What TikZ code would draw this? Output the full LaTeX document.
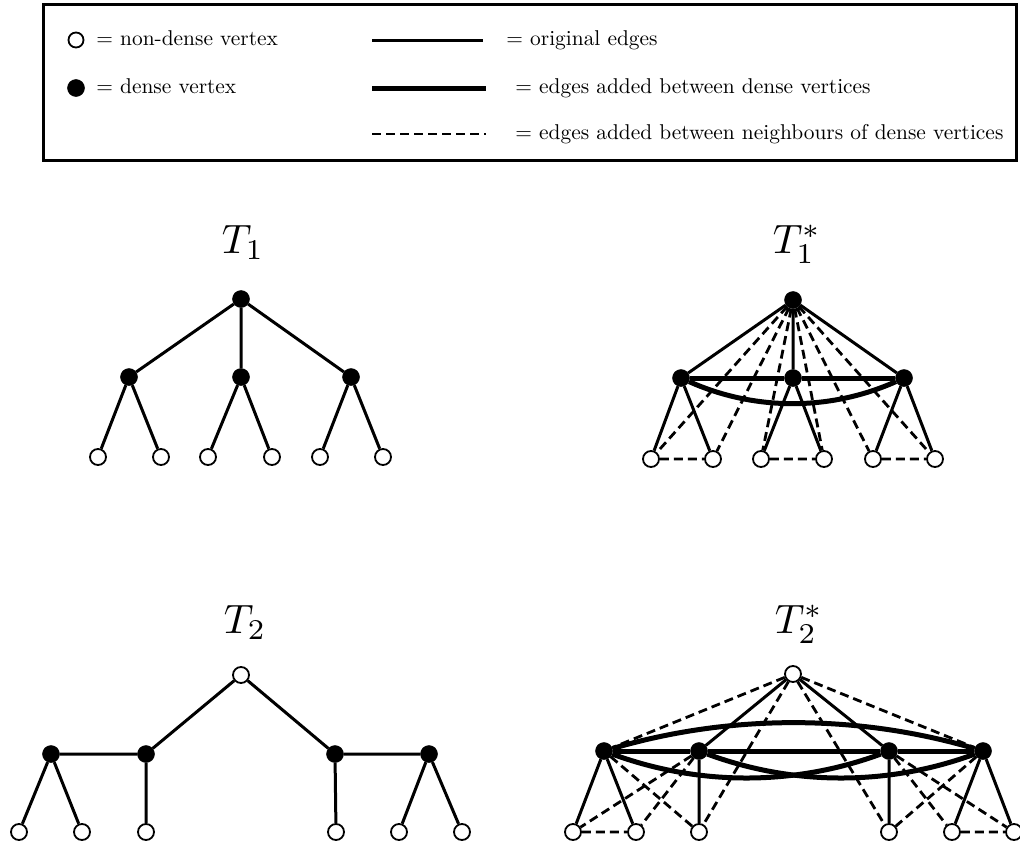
\documentclass[tikz,border=0pt]{standalone}
\usetikzlibrary{backgrounds}
\begin{document}
\begin{tikzpicture}[x=1pt,y=-1pt,
  nd/.style={circle,draw,fill=white,line width=1.8pt,minimum size=16pt,inner sep=0pt},
  dv/.style={circle,draw,fill=black,line width=0.5pt,minimum size=17pt,inner sep=0pt},
  orig/.style={line width=3pt},
  thk/.style={line width=5pt},
  dsh/.style={line width=2.8pt,dash pattern=on 9pt off 5pt},
  lbl/.style={anchor=base west,scale=2.14,inner sep=0pt},
  tl/.style={anchor=base,scale=4.1,inner sep=0pt}]
\useasboundingbox (0,0) rectangle (1020,846);
% ---------- legend ----------
\draw[line width=3pt] (43,4) rectangle (1016,160);
\node[nd,minimum size=15pt] (lo) at (76,40) {};
\node[dv] (lf) at (76,88) {};
\node[lbl] (lt1) at (96,45.5) {$=$ non-dense vertex};
\node[lbl] (lt2) at (96,93.5) {$=$ dense vertex};
\coordinate (s1a) at (372,40);  \coordinate (s1b) at (483,40);
\coordinate (s2a) at (372,88);  \coordinate (s2b) at (486,88);
\coordinate (s3a) at (372,134); \coordinate (s3b) at (486,134);
\draw[orig] (s1a) -- (s1b);
\draw[thk] (s2a) -- (s2b);
\draw[dsh] (s3a) -- (s3b);
\node[lbl] (lt3) at (506,45.5) {$=$ original edges};
\node[lbl] (lt4) at (515,93.5) {$=$ edges added between dense vertices};
\node[lbl] (lt5) at (515,139.5) {$=$ edges added between neighbours of dense vertices};
% ---------- titles ----------
\node[tl] (T1) at (243,253) {$T_1$};
\node[tl] (T1s) at (797,253) {$T_1^*$};
\node[tl] (T2) at (245,633) {$T_2$};
\node[tl] (T2s) at (799,633) {$T_2^*$};
% ---------- T1 ----------
\node[dv] (pr) at (241,299) {};
\node[dv] (pa) at (129,377) {};
\node[dv] (pb) at (241,377) {};
\node[dv] (pc) at (351,377) {};
\node[nd] (p1) at (98,457) {};
\node[nd] (p2) at (161,457) {};
\node[nd] (p3) at (208,457) {};
\node[nd] (p4) at (272,457) {};
\node[nd] (p5) at (320,457) {};
\node[nd] (p6) at (383,457) {};
% ---------- T1* ----------
\node[dv] (qr) at (793,300) {};
\node[dv] (qa) at (681,378) {};
\node[dv] (qb) at (793,378) {};
\node[dv] (qc) at (904,378) {};
\node[nd] (q1) at (651,459) {};
\node[nd] (q2) at (713,459) {};
\node[nd] (q3) at (761,459) {};
\node[nd] (q4) at (824,459) {};
\node[nd] (q5) at (873,459) {};
\node[nd] (q6) at (935,459) {};
% ---------- T2 ----------
\node[nd] (ur) at (241,675) {};
\node[dv] (ua) at (51,754) {};
\node[dv] (ub) at (146,754) {};
\node[dv] (uc) at (335,754) {};
\node[dv] (ud) at (429,754) {};
\node[nd] (u1) at (19,832) {};
\node[nd] (u2) at (82,832) {};
\node[nd] (u3) at (146,832) {};
\node[nd] (u4) at (336,832) {};
\node[nd] (u5) at (399,832) {};
\node[nd] (u6) at (462,832) {};
% ---------- T2* ----------
\node[nd] (vr) at (793,674) {};
\node[dv] (va) at (604,751) {};
\node[dv] (vb) at (699,751) {};
\node[dv] (vc) at (889,751) {};
\node[dv] (vd) at (983,751) {};
\node[nd] (v1) at (573,832) {};
\node[nd] (v2) at (636,832) {};
\node[nd] (v3) at (699,832) {};
\node[nd] (v4) at (889,832) {};
\node[nd] (v5) at (952,832) {};
\node[nd] (v6) at (1014,832) {};
\begin{pgfonlayer}{background}
% T1
\draw[orig] (pr) -- (pa) (pr) -- (pb) (pr) -- (pc)
  (pa) -- (p1) (pa) -- (p2) (pb) -- (p3) (pb) -- (p4) (pc) -- (p5) (pc) -- (p6);
% T1*
\draw[orig] (qr) -- (qa) (qr) -- (qb) (qr) -- (qc)
  (qa) -- (q1) (qa) -- (q2) (qb) -- (q3) (qb) -- (q4) (qc) -- (q5) (qc) -- (q6);
\draw[thk] (qa) -- (qb) (qb) -- (qc);
\draw[thk] (qa) .. controls (755,411) and (830,411) .. (qc);
\draw[dsh] (qr) -- (q1) (qr) -- (q2) (qr) -- (q3) (qr) -- (q4) (qr) -- (q5) (qr) -- (q6)
  (q1) -- (q2) (q3) -- (q4) (q5) -- (q6);
% T2
\draw[orig] (ur) -- (ub) (ur) -- (uc) (ua) -- (ub) (uc) -- (ud)
  (ua) -- (u1) (ua) -- (u2) (ub) -- (u3) (uc) -- (u4) (ud) -- (u5) (ud) -- (u6);
% T2*
\draw[orig] (vr) -- (vb) (vr) -- (vc)
  (va) -- (v1) (va) -- (v2) (vb) -- (v3) (vc) -- (v4) (vd) -- (v5) (vd) -- (v6);
\draw[thk] (va) -- (vb) (vb) -- (vc) (vc) -- (vd);
\draw[thk] (va) .. controls (730,714) and (857,714) .. (vd);
\draw[thk] (va) .. controls (699,786) and (794,786) .. (vc);
\draw[thk] (vb) .. controls (794,786) and (888,786) .. (vd);
\draw[dsh] (vr) -- (va) (vr) -- (vd) (vr) -- (v3) (vr) -- (v4)
  (va) -- (v3) (vb) -- (v1) (vb) -- (v2) (v1) -- (v2)
  (vd) -- (v4) (vc) -- (v5) (vc) -- (v6) (v5) -- (v6);
\end{pgfonlayer}
\end{tikzpicture}
\end{document}
